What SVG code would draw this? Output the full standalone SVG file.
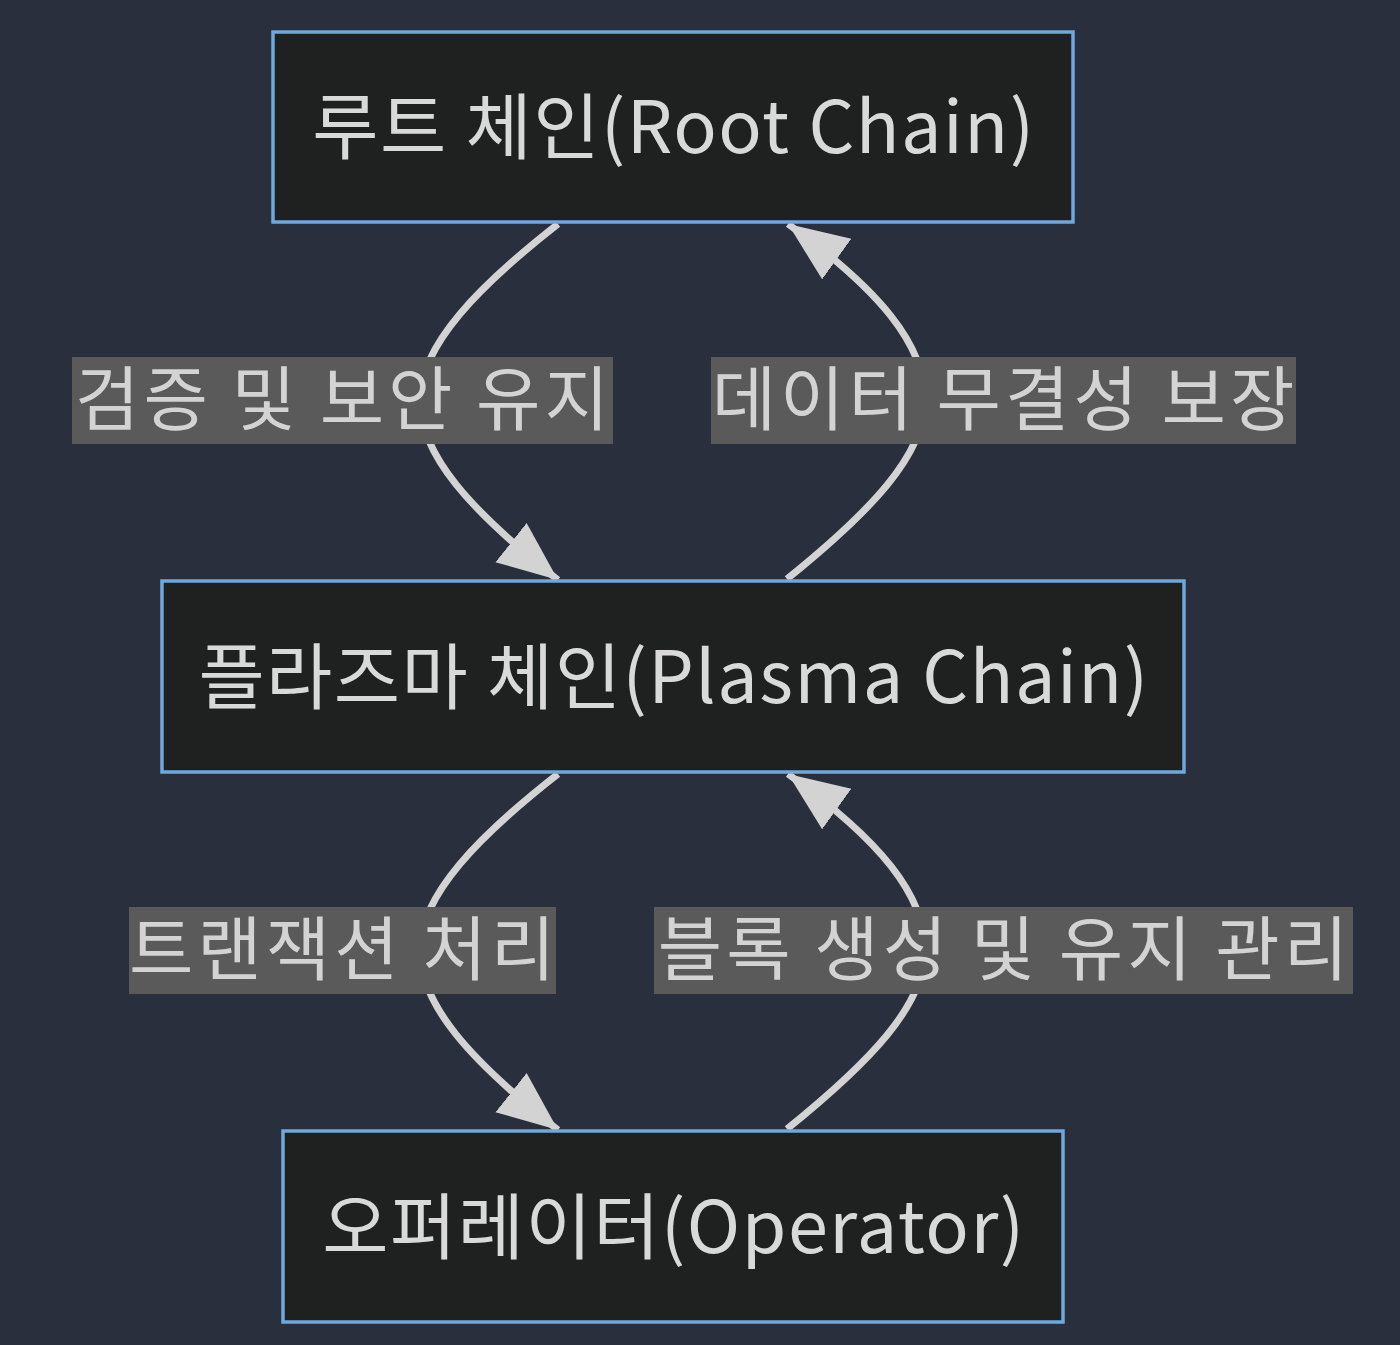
<svg xmlns="http://www.w3.org/2000/svg" width="1400" height="1345" viewBox="0 0 1400 1345">
<style>
.node rect{fill:#1f2020;stroke:#6fa8dc;stroke-width:3.5}
.node text{fill:#d9d9d9;font-family:"Noto Sans CJK KR","Noto Sans",sans-serif;font-size:72px;letter-spacing:1.5px;text-anchor:middle}
.edge{fill:none;stroke:#d3d3d3;stroke-width:7}
.lbl rect{fill:#5a5a5a}
.lbl text{fill:#d3d3d3;font-family:"Noto Sans CJK KR","Noto Sans",sans-serif;font-size:70px;letter-spacing:4px;text-anchor:middle}
</style>
<defs>
<marker id="ah" markerUnits="userSpaceOnUse" markerWidth="70" markerHeight="60" refX="60" refY="25" orient="auto">
<path d="M0,0 L60,25 L0,50 Z" fill="#d3d3d3"/>
</marker>
</defs>
<rect width="1400" height="1345" fill="#2a2f3d"/>
<g id="connectors">
<path class="edge" marker-end="url(#ah)" d="M558,224 C480,285 420,345 420,400 C420,455 470,510 558,580"/>
<path class="edge" marker-end="url(#ah)" d="M787,579 C870,512 925,455 925,400 C925,345 880,290 788,224"/>
<path class="edge" marker-end="url(#ah)" d="M558,774 C480,835 420,895 420,950 C420,1005 470,1060 558,1130"/>
<path class="edge" marker-end="url(#ah)" d="M787,1129 C870,1062 925,1005 925,950 C925,895 880,840 788,774"/>
</g>
<g id="label1" class="lbl"><rect x="72" y="357" width="541" height="87"/><text x="344" y="425">검증 및 보안 유지</text></g>
<g id="label2" class="lbl"><rect x="711" y="357" width="585" height="87"/><text x="1005" y="425">데이터 무결성 보장</text></g>
<g id="label3" class="lbl"><rect x="129" y="907" width="427" height="87"/><text x="344" y="975">트랜잭션 처리</text></g>
<g id="label4" class="lbl"><rect x="654" y="907" width="699" height="87"/><text x="1005" y="975">블록 생성 및 유지 관리</text></g>
<g id="root" class="node"><rect x="273" y="32" width="800" height="190"/><text x="674" y="153">루트 체인(Root Chain)</text></g>
<g id="plasma" class="node"><rect x="162" y="581" width="1022" height="191"/><text x="674" y="703">플라즈마 체인(Plasma Chain)</text></g>
<g id="operator" class="node"><rect x="283" y="1131" width="780" height="191"/><text x="674" y="1253">오퍼레이터(Operator)</text></g>
</svg>
